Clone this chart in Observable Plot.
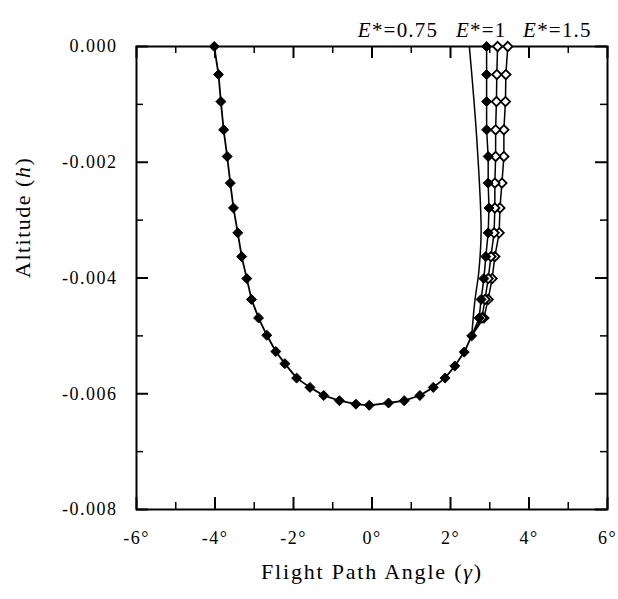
<!DOCTYPE html>
<html><head><meta charset="utf-8">
<script src="https://cdn.jsdelivr.net/npm/d3@7"></script>
<script src="https://cdn.jsdelivr.net/npm/@observablehq/plot@0.6"></script>
<style>
html,body{margin:0;padding:0;background:#fff;}
</style></head><body><div id="chart"></div>
<script>
// Common (shared) trajectory: flight path angle (deg) and altitude
const commonGamma = [-4.02, -3.91, -3.85, -3.78, -3.69, -3.61, -3.53, -3.42, -3.32, -3.19, -3.07, -2.89, -2.68, -2.45, -2.22, -1.92, -1.58, -1.23, -0.83, -0.41, -0.07, 0.42, 0.82, 1.22, 1.56, 1.86, 2.11, 2.35, 2.54];
const commonH = [0, -0.000485, -0.000952, -0.00144, -0.0019, -0.00236, -0.00279, -0.00322, -0.00363, -0.00401, -0.00437, -0.00469, -0.00499, -0.00527, -0.00548, -0.00573, -0.00589, -0.00603, -0.00612, -0.00618, -0.0062, -0.00616, -0.00612, -0.00603, -0.00589, -0.00573, -0.00552, -0.00528, -0.005];

// Right-hand branches (climb-out) altitudes
const branchH = [0, -0.000485, -0.000952, -0.00144, -0.0019, -0.00236, -0.00279, -0.00322, -0.00363, -0.00401, -0.00437, -0.00469, -0.005];
const filledGamma = [2.92, 2.92, 2.92, 2.92, 2.96, 2.96, 2.98, 2.96, 2.90, 2.85, 2.78, 2.73, 2.54];
const hollowAGamma = [3.20, 3.18, 3.17, 3.15, 3.15, 3.13, 3.13, 3.11, 3.03, 2.96, 2.88, 2.80, 2.54];
const hollowBGamma = [3.46, 3.41, 3.40, 3.36, 3.36, 3.31, 3.26, 3.24, 3.13, 3.06, 2.96, 2.85, 2.54];

// Plain line (no markers)
const plainH = [0, -0.0016, -0.0032, -0.0039, -0.0044, -0.005];
const plainGamma = [2.48, 2.67, 2.78, 2.72, 2.62, 2.54];

// Ticks
const xTicksMajor = [-6, -4, -2, 0, 2, 4, 6];
const xTicksMinor = [-5, -3, -1, 1, 3, 5];
const yTicksMajor = [0, -0.002, -0.004, -0.006, -0.008];
const yTicksMinor = [-0.001, -0.003, -0.005, -0.007];

// Labels
const curveLabels = ["E*=0.75", "E*=1", "E*=1.5"];
const curveLabelGamma = [-0.36, 2.14, 3.85];
const xTitle = "Flight Path Angle (γ)";
const yTitle = "Altitude (h)";

const W = 618, H = 599, mL = 136, mR = 11, mT = 46, mB = 90;
const iw = W - mL - mR, ih = H - mT - mB;
const majorLen = 12, minorLen = 7;
const zip = (xs, ys) => xs.map((x, i) => ({x, y: ys[i]}));
const common = zip(commonGamma, commonH);
const filled = zip(filledGamma, branchH);
const hollowA = zip(hollowAGamma, branchH);
const hollowB = zip(hollowBGamma, branchH);
const plain = zip(plainGamma, plainH);
const labelData = curveLabels.map((t, i) => ({t, x: curveLabelGamma[i]}));

const font = "'Liberation Serif', 'Times New Roman', serif";

const chart = Plot.plot({
  width: W, height: H,
  marginLeft: mL, marginRight: mR, marginTop: mT, marginBottom: mB,
  style: {fontFamily: font, background: "#fff", color: "#000", overflow: "visible"},
  x: {domain: [-6, 6]},
  y: {domain: [-0.008, 0]},
  marks: [
    Plot.axisX({ticks: xTicksMajor, tickSize: 0, tickPadding: 22, tickFormat: d => `${d}°`, fontSize: 18, label: null}),
    Plot.axisY({ticks: yTicksMajor, tickSize: 0, tickPadding: 19, tickFormat: d => d.toFixed(3), fontSize: 18, label: null}),
    // inward ticks on all four sides
    Plot.tickX(xTicksMajor, {x: d => d, insetTop: ih - majorLen, strokeWidth: 2}),
    Plot.tickX(xTicksMinor, {x: d => d, insetTop: ih - minorLen, strokeWidth: 1.5}),
    Plot.tickX(xTicksMajor, {x: d => d, insetBottom: ih - majorLen, strokeWidth: 2}),
    Plot.tickX(xTicksMinor, {x: d => d, insetBottom: ih - minorLen, strokeWidth: 1.5}),
    Plot.tickY(yTicksMajor, {y: d => d, insetRight: iw - majorLen, strokeWidth: 2}),
    Plot.tickY(yTicksMinor, {y: d => d, insetRight: iw - minorLen, strokeWidth: 1.5}),
    Plot.tickY(yTicksMajor, {y: d => d, insetLeft: iw - majorLen, strokeWidth: 2}),
    Plot.tickY(yTicksMinor, {y: d => d, insetLeft: iw - minorLen, strokeWidth: 1.5}),
    Plot.frame({strokeWidth: 2}),
    // curves
    Plot.line(plain, {x: "x", y: "y", stroke: "#000", strokeWidth: 1.5, curve: "catmull-rom"}),
    Plot.line(hollowB, {x: "x", y: "y", stroke: "#000", strokeWidth: 1.5}),
    Plot.line(hollowA, {x: "x", y: "y", stroke: "#000", strokeWidth: 1.5}),
    Plot.line(filled, {x: "x", y: "y", stroke: "#000", strokeWidth: 1.5}),
    Plot.line(common, {x: "x", y: "y", stroke: "#000", strokeWidth: 1.8}),
    Plot.dot(hollowB.slice(0, -1), {x: "x", y: "y", symbol: "diamond2", r: 4.2, fill: "#fff", stroke: "#000", strokeWidth: 1.8}),
    Plot.dot(hollowA.slice(0, -1), {x: "x", y: "y", symbol: "diamond2", r: 4.2, fill: "#fff", stroke: "#000", strokeWidth: 1.8}),
    Plot.dot(filled.slice(0, -1), {x: "x", y: "y", symbol: "diamond2", r: 4.5, fill: "#000", stroke: "#000", strokeWidth: 1}),
    Plot.dot(common, {x: "x", y: "y", symbol: "diamond2", r: 4.5, fill: "#000", stroke: "#000", strokeWidth: 1}),
    // labels
    Plot.text(labelData, {x: "x", text: "t", frameAnchor: "top", dy: -24, textAnchor: "start", fontSize: 21, fill: "#000"}),
    Plot.text([xTitle], {text: d => d, frameAnchor: "bottom", dy: 69, fontSize: 22, fill: "#000"}),
    Plot.text([yTitle], {text: d => d, frameAnchor: "left", dx: -114, rotate: -90, fontSize: 22, fill: "#000"})
  ]
});
document.getElementById("chart").appendChild(chart);

// typographic post-processing: italic variables and letter spacing
const italicize = (el, parts) => {
  const s = d3.select(el);
  s.text(null);
  parts.forEach(([txt, it]) => {
    const ts = s.append("tspan").text(txt);
    if (it) ts.attr("font-style", "italic");
  });
};
d3.select(chart).selectAll("text").each(function () {
  const t = this.textContent;
  if (curveLabels.includes(t)) {
    italicize(this, [["E", true], [t.slice(1), false]]);
    d3.select(this).attr("letter-spacing", "1.2px");
  } else if (t === xTitle) {
    italicize(this, [["Flight Path Angle (", false], ["γ", true], [")", false]]);
    d3.select(this).attr("letter-spacing", "1.8px");
  } else if (t === yTitle) {
    italicize(this, [["Altitude (", false], ["h", true], [")", false]]);
    d3.select(this).attr("letter-spacing", "1.5px");
  }
});
d3.select(chart).selectAll("[aria-label='x-axis tick label'] text, [aria-label='y-axis tick label'] text").attr("letter-spacing", "1.5px");
</script></body></html>
